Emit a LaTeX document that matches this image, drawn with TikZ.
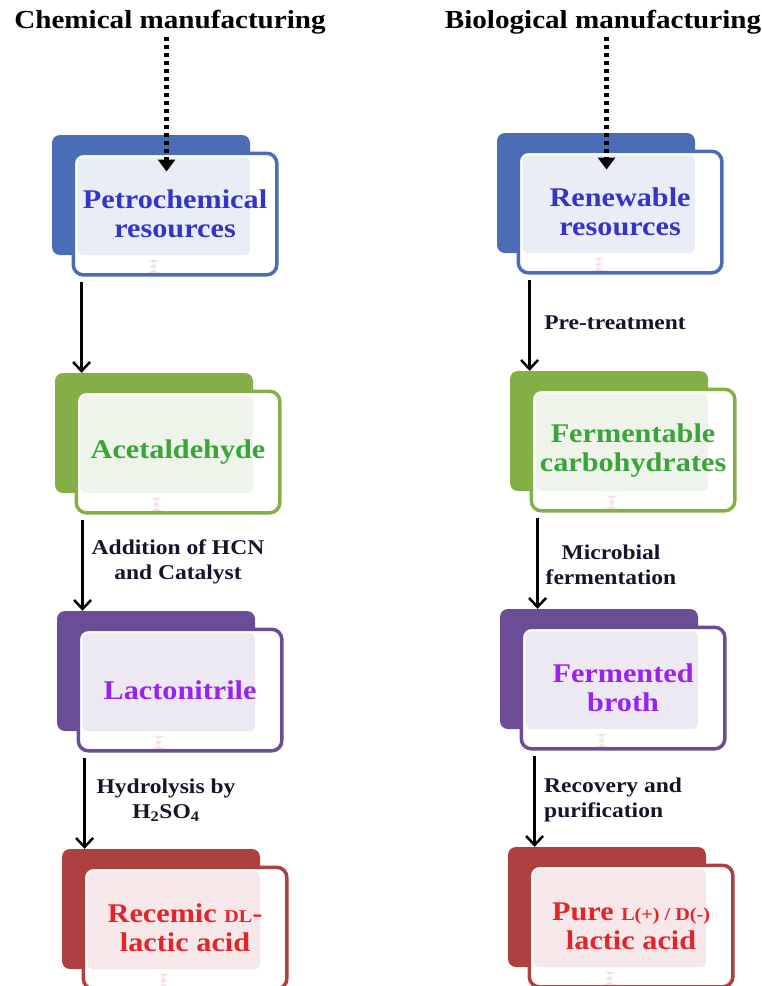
\documentclass[tikz,border=0pt]{standalone}
\usepackage{fontspec}
\setmainfont{Liberation Serif}[FakeStretch=1.12]
\usepackage{tikz}
\usetikzlibrary{arrows.meta, positioning}
\definecolor{blueback}{HTML}{4A6DB5}
\definecolor{bluetext}{HTML}{3434C8}
\definecolor{bluelight}{HTML}{E9EDF5}
\definecolor{greenback}{HTML}{84AF47}
\definecolor{greentext}{HTML}{3AA43A}
\definecolor{greenlight}{HTML}{EFF4EA}
\definecolor{purpleback}{HTML}{6A4D94}
\definecolor{purpletext}{HTML}{9A22F0}
\definecolor{purplelight}{HTML}{EDE9F2}
\definecolor{redback}{HTML}{AF4040}
\definecolor{redtext}{HTML}{E3242B}
\definecolor{redlight}{HTML}{F6E8E8}
\definecolor{markpink}{HTML}{F2E2E4}
\definecolor{labelink}{HTML}{15152A}
\newcommand{\boxfont}{\fontsize{27}{29}\selectfont\bfseries}
\newcommand{\titlefont}{\fontsize{26}{30}\selectfont\bfseries}
\newcommand{\labelfont}{\fontsize{21}{25}\selectfont\bfseries}
\newcommand{\smallcap}{\fontsize{18}{18}\selectfont}

\begin{document}
\begin{tikzpicture}[
x=1pt, y=1pt,
node distance=238pt,
every node/.style={align=center, inner sep=0pt},
arrow/.style={-{Straight Barb[length=9pt,width=17pt]}, line width=2.5pt},
dotarrow/.style={-{Triangle[length=12pt,width=17pt]}, line width=5pt, dash pattern=on 4pt off 4pt},
boxback/.style={rectangle, rounded corners=8pt, fill=#1back, minimum width=198pt, minimum height=120pt},
boxfront/.style 2 args={rectangle, rounded corners=10pt, fill=white, draw=#1back, line width=3.5pt,
  minimum width=203.5pt, minimum height=121.5pt, anchor=north west, text=#1text, font=\boxfont,
  path picture={
    \fill[#1light, rounded corners=6pt] ([shift={(4pt,-4pt)}]path picture bounding box.north west) rectangle (#2.south east);
    \fill[markpink] ([xshift=-24pt,yshift=2pt]path picture bounding box.south) rectangle ++(5pt,13pt);
  }}
]

\useasboundingbox (0,0) rectangle (761,-986);

% Define styles
\tikzstyle{title} = [font=\titlefont, anchor=base]
\tikzstyle{arrowlabel} = [font=\labelfont, text=labelink]

% Titles
\node (chem) [title] at (170,-28) {Chemical manufacturing};
\node (bio) [title] at (603,-28) {Biological manufacturing};

% Chemical route
\node (petroback) [boxback=blue] at (151,-195) {};
\node (petro) [boxfront={blue}{petroback}] at ([shift={(19.75pt,-16.75pt)}]petroback.north west) {Petrochemical\\resources};

\node (acetback) [boxback=green, below of=petroback, xshift=3pt] {};
\node (acet) [boxfront={green}{acetback}] at ([shift={(19.75pt,-16.75pt)}]acetback.north west) {Acetaldehyde};

\node (lactoback) [boxback=purple, below of=acetback, xshift=2pt] {};
\node (lacto) [boxfront={purple}{lactoback}] at ([shift={(19.75pt,-16.75pt)}]lactoback.north west) {Lactonitrile};

\node (racemback) [boxback=red, below of=lactoback, xshift=5pt] {};
\node (racem) [boxfront={red}{racemback}] at ([shift={(19.75pt,-16.75pt)}]racemback.north west) {Recemic {\smallcap DL}-\\lactic acid};

% Biological route
\node (renewback) [boxback=blue] at (596,-193) {};
\node (renew) [boxfront={blue}{renewback}] at ([shift={(19.75pt,-16.75pt)}]renewback.north west) {Renewable\\resources};

\node (fermback) [boxback=green, below of=renewback, xshift=13pt] {};
\node (ferm) [boxfront={green}{fermback}] at ([shift={(19.75pt,-16.75pt)}]fermback.north west) {Fermentable\\carbohydrates};

\node (brothback) [boxback=purple, below of=fermback, xshift=-10pt] {};
\node (broth) [boxfront={purple}{brothback}] at ([shift={(19.75pt,-16.75pt)}]brothback.north west) {Fermented\\broth};

\node (pureback) [boxback=red, below of=brothback, xshift=8pt] {};
\node (pure) [boxfront={red}{pureback}] at ([shift={(19.75pt,-16.75pt)}]pureback.north west) {Pure {\smallcap L(+) / D(-)}\\lactic acid};

% Arrow labels
\node (hcnlbl) [arrowlabel] at (178,-562) {Addition of HCN\\and Catalyst};
\node (hydlbl) [arrowlabel] at (166,-800) {Hydrolysis by\\H\textsubscript{2}SO\textsubscript{4}};
\node (pretlbl) [arrowlabel] at (615,-323) {Pre-treatment};
\node (microlbl) [arrowlabel] at (611,-565) {Microbial\\fermentation};
\node (recovlbl) [arrowlabel, align=left, anchor=west] at (544,-800) {Recovery and\\purification};

% Dotted arrows
\coordinate (chemtip) at ([xshift=-8.5pt,yshift=-20pt]petro.north);
\coordinate (biotip) at ([xshift=-13.5pt,yshift=-20pt]renew.north);
\draw [dotarrow] (chemtip |- chem.south) ++(0,-3) -- (chemtip);
\draw [dotarrow] (biotip |- bio.south) ++(0,-3) -- (biotip);

% Arrows
\draw [arrow] ([xshift=10pt,yshift=-5pt]petro.south west) coordinate (c1) -- (c1 |- acetback.north);
\draw [arrow] ([xshift=8pt,yshift=-5pt]acet.south west) coordinate (c2) -- (c2 |- lactoback.north);
\draw [arrow] ([xshift=8pt,yshift=-5pt]lacto.south west) coordinate (c3) -- (c3 |- racemback.north);
\draw [arrow] ([xshift=13pt,yshift=-5pt]renew.south west) coordinate (c4) -- (c4 |- fermback.north);
\draw [arrow] ([xshift=8pt,yshift=-5pt]ferm.south west) coordinate (c5) -- (c5 |- brothback.north);
\draw [arrow] ([xshift=15pt,yshift=-5pt]broth.south west) coordinate (c6) -- (c6 |- pureback.north);

\end{tikzpicture}
\end{document}
